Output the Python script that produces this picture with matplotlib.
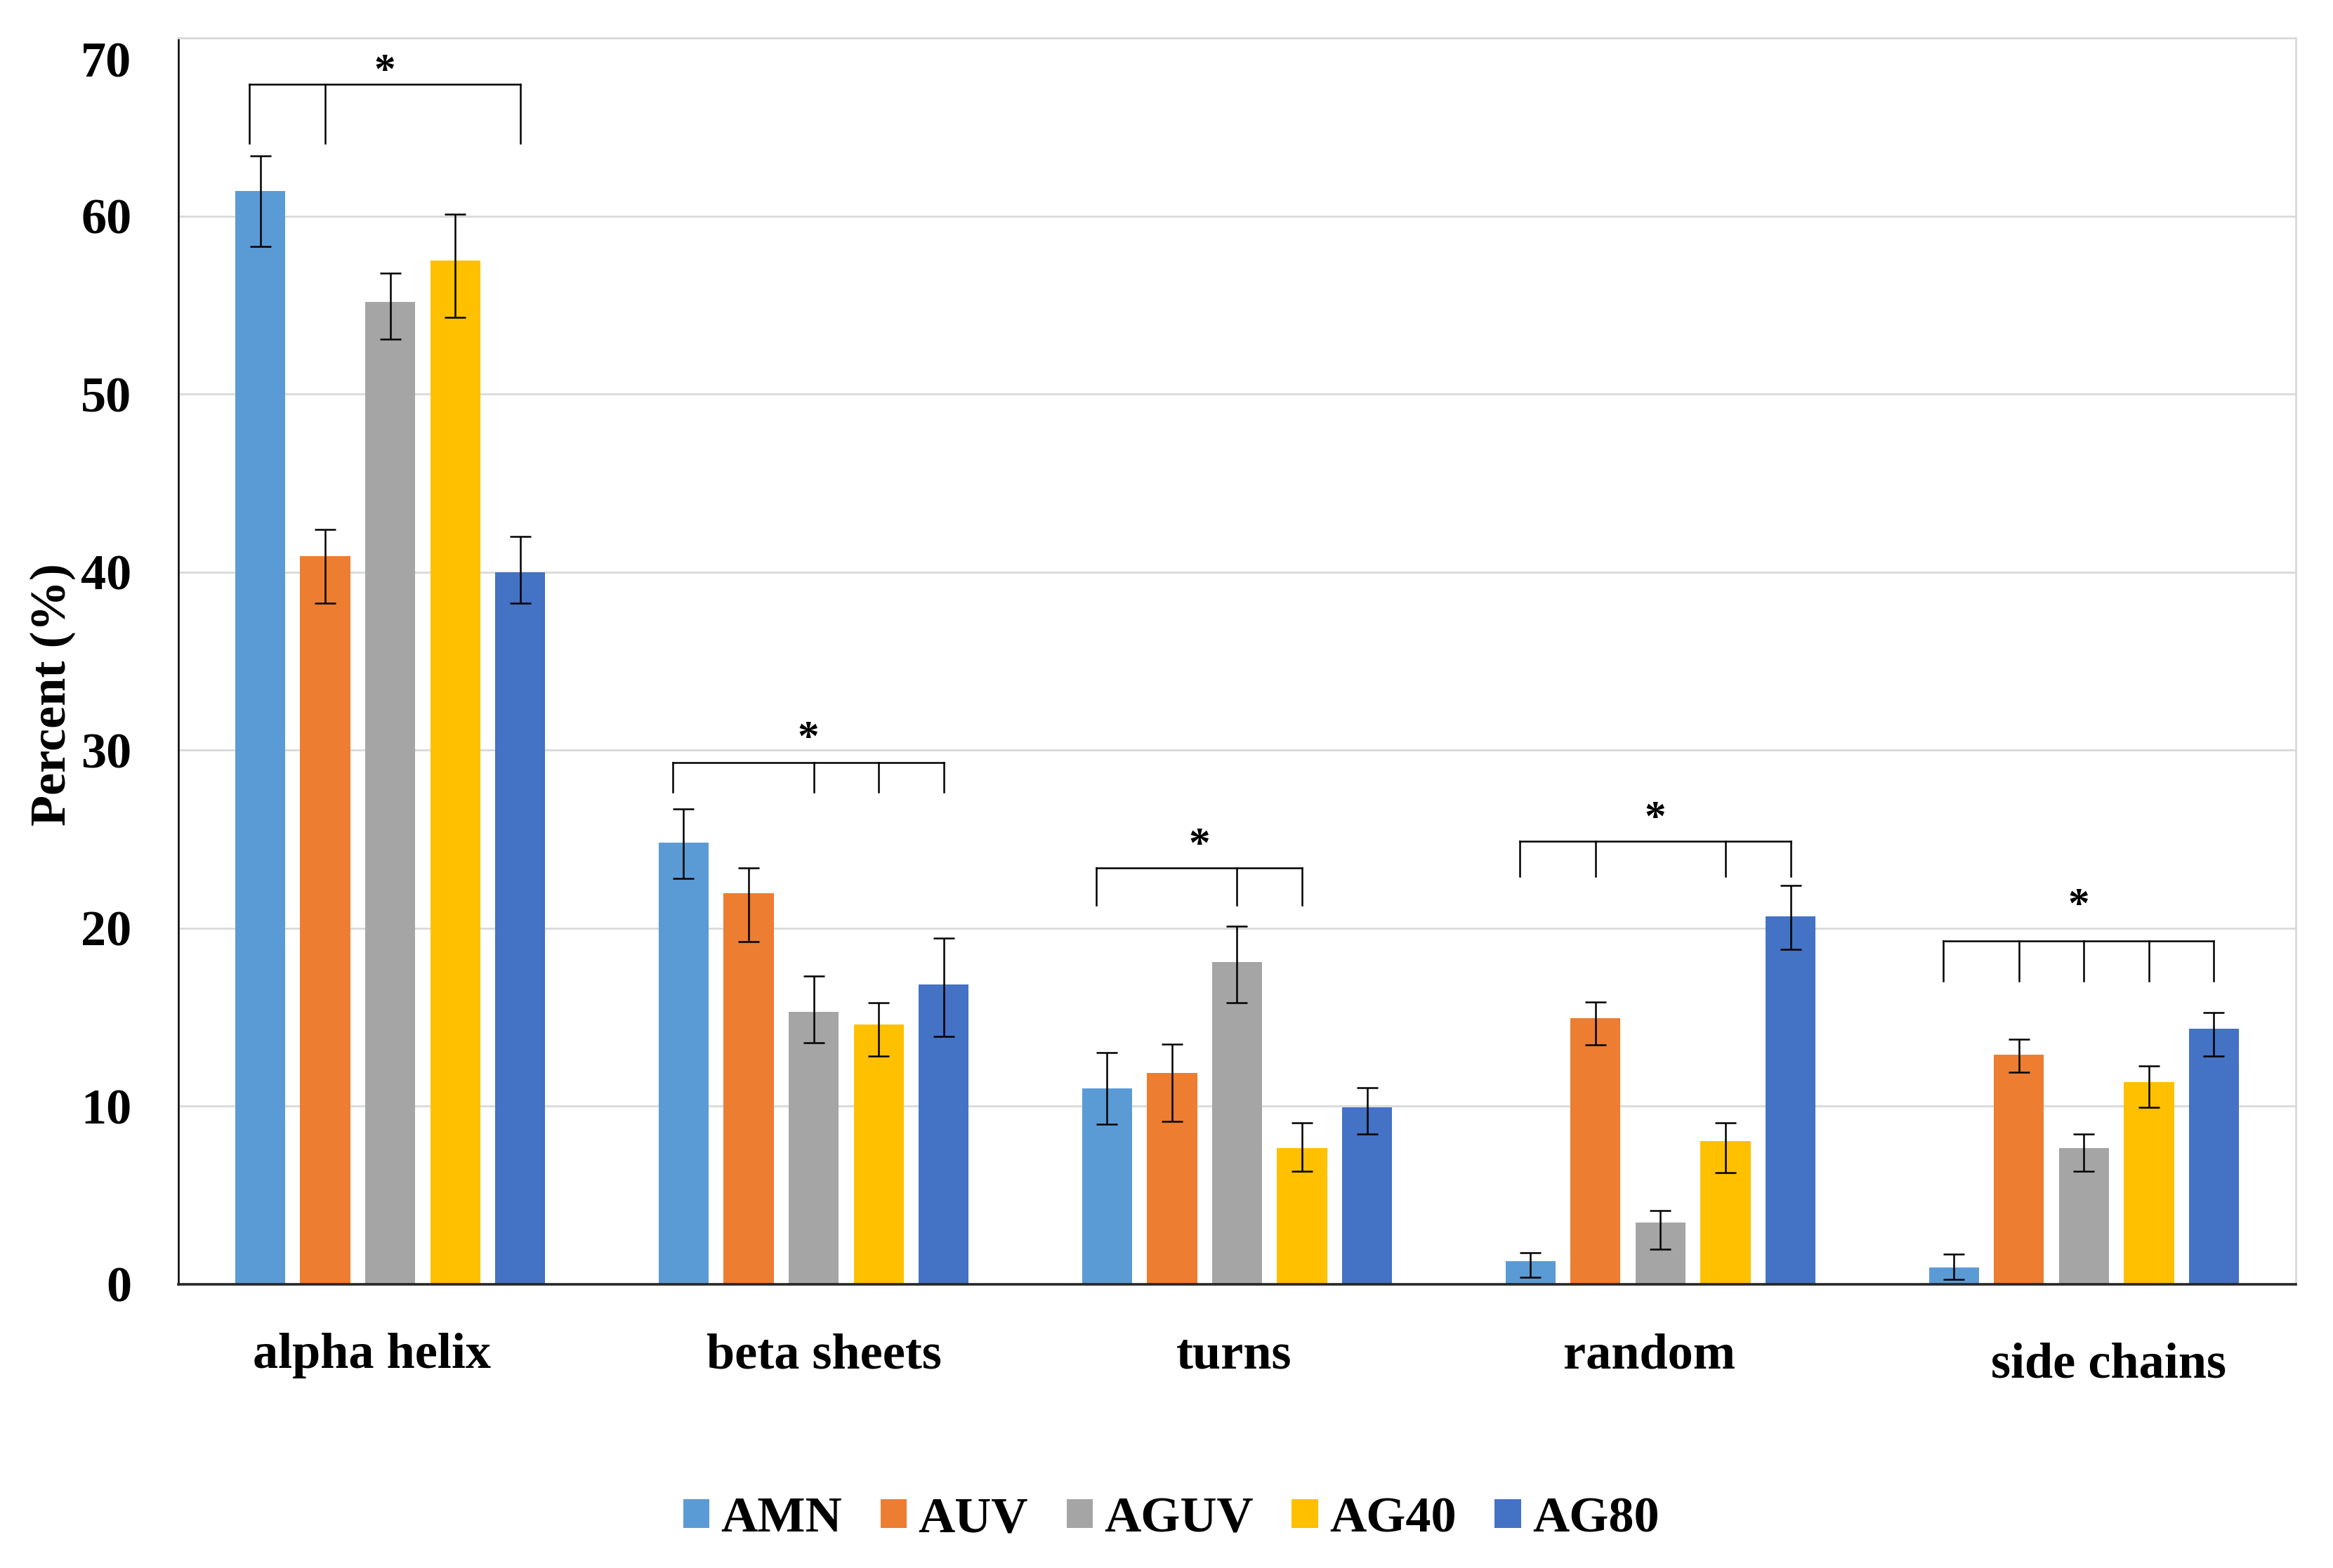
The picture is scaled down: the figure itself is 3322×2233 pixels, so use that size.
import numpy as np
import matplotlib.pyplot as plt
import matplotlib.transforms as mtransforms

categories = ['alpha helix', 'beta sheets', 'turns', 'random', 'side chains']
series = ['AMN', 'AUV', 'AGUV', 'AG40', 'AG80']
colors = ['#5B9BD5', '#ED7D31', '#A5A5A5', '#FFC000', '#4472C4']

# mean values per series, one value per category
amn = [61.4, 24.8, 11.0, 1.3, 0.95]
auv = [40.9, 21.95, 11.85, 14.95, 12.9]
aguv = [55.2, 15.3, 18.1, 3.45, 7.65]
ag40 = [57.5, 14.6, 7.65, 8.05, 11.35]
ag80 = [40.0, 16.85, 9.95, 20.65, 14.35]

# error bars (lower / upper)
amn_lo = [3.1, 2.0, 2.0, 0.9, 0.7]
amn_hi = [2.0, 1.9, 2.0, 0.45, 0.75]
auv_lo = [2.65, 2.7, 2.7, 1.5, 1.0]
auv_hi = [1.5, 1.45, 1.65, 0.9, 0.85]
aguv_lo = [2.1, 1.75, 2.3, 1.5, 1.3]
aguv_hi = [1.6, 2.0, 2.0, 0.7, 0.8]
ag40_lo = [3.2, 1.8, 1.3, 1.8, 1.4]
ag40_hi = [2.6, 1.2, 1.4, 1.0, 0.9]
ag80_lo = [1.75, 2.95, 1.5, 1.85, 1.55]
ag80_hi = [2.0, 2.6, 1.1, 1.75, 0.9]

# significance brackets: which bars get a tick, bracket height, tick end, star height
bracket_members = [[0, 1, 4], [0, 2, 3, 4], [0, 2, 3], [0, 1, 3, 4], [0, 1, 2, 3, 4]]
bracket_top = [67.4, 29.3, 23.4, 24.9, 19.3]
bracket_end = [64.1, 27.65, 21.3, 22.9, 17.05]
star_y = [68.1, 30.6, 24.6, 26.1, 21.2]

values = [amn, auv, aguv, ag40, ag80]
err_lo = [amn_lo, auv_lo, aguv_lo, ag40_lo, ag80_lo]
err_hi = [amn_hi, auv_hi, aguv_hi, ag40_hi, ag80_hi]

plt.rcParams['font.family'] = ['Liberation Serif', 'DejaVu Serif']
plt.rcParams['font.weight'] = 'bold'

fig = plt.figure(figsize=(16.61, 11.165), dpi=200)
ax = fig.add_axes([0.0765, 0.181, 0.9075, 0.7946])

step = 0.1535
width = 0.118
groups = np.arange(len(categories))

for j, name in enumerate(series):
    x = groups + (j - 2) * step
    ax.bar(x, values[j], width, color=colors[j], label=name, zorder=2)
    ax.errorbar(x, values[j], yerr=[err_lo[j], err_hi[j]], fmt='none',
                ecolor='black', elinewidth=0.9, capsize=5.3, capthick=0.9, zorder=3)

for g in range(len(categories)):
    xs = [g + (m - 2) * step for m in bracket_members[g]]
    xs[0] -= 0.025
    top = bracket_top[g]
    ax.plot([xs[0], xs[-1]], [top, top], color='black', lw=0.9, zorder=4)
    for xv in xs:
        ax.plot([xv, xv], [top, bracket_end[g]], color='black', lw=0.9, zorder=4)
    ax.text((xs[0] + xs[-1]) / 2, star_y[g], '*', ha='center', va='center',
            fontsize=22, fontweight='bold')

ax.set_xlim(-0.5, len(categories) - 0.5)
ax.set_ylim(0, 70)
ax.set_yticks(range(0, 71, 10))
ax.set_xticks([])
ax.tick_params(axis='y', length=0, pad=24, labelsize=26)
for lab in ax.get_yticklabels():
    lab.set_fontweight('bold')
# the top label sits a little below its gridline, as in the original
top_tick = ax.yaxis.get_major_ticks()[-1].label1
top_tick.set_transform(top_tick.get_transform() +
                       mtransforms.ScaledTranslation(0, -30 / 200, fig.dpi_scale_trans))

ax.grid(axis='y', color='#d9d9d9', lw=1.0, zorder=0)
ax.set_axisbelow(True)
ax.spines['left'].set_color('black')
ax.spines['left'].set_linewidth(0.9)
ax.spines['bottom'].set_color('#262626')
ax.spines['bottom'].set_linewidth(1.3)
ax.spines['right'].set_color('#d9d9d9')
ax.spines['right'].set_linewidth(1.0)
ax.spines['top'].set_color('#d9d9d9')
ax.spines['top'].set_linewidth(1.0)

# category labels below the axis
label_shift = [-0.044, 0.025, -0.008, -0.027, 0.058]
label_y = [0.1276, 0.1276, 0.1276, 0.1276, 0.1218]
trans = mtransforms.blended_transform_factory(ax.transData, fig.transFigure)
for g, cat in enumerate(categories):
    ax.text(g + label_shift[g], label_y[g], cat, transform=trans,
            ha='center', va='baseline', fontsize=26, fontweight='bold')

fig.text(0.0226, 0.557, 'Percent (%)', rotation=90, ha='center', va='center',
         fontsize=26, fontweight='bold')

leg = fig.legend(loc='center', bbox_to_anchor=(0.502, 0.031), ncol=5, frameon=False,
                 fontsize=26, handlelength=0.52, handleheight=0.5, handletextpad=0.22,
                 columnspacing=0.76, borderpad=0)
for t in leg.get_texts():
    t.set_fontweight('bold')

fig.savefig('out.png', dpi=200)
